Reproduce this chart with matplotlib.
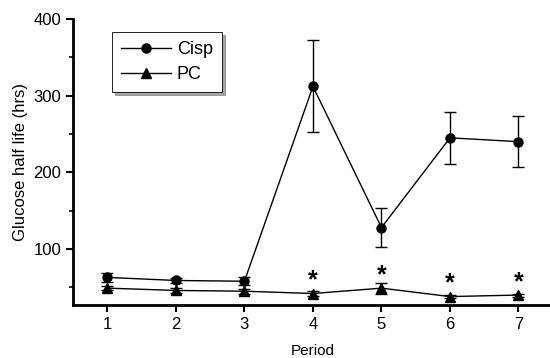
import numpy as np
import matplotlib
matplotlib.use("Agg")
import matplotlib.pyplot as plt
from matplotlib.lines import Line2D

plt.rcParams['font.family'] = ['Liberation Sans', 'DejaVu Sans']

period = [1, 2, 3, 4, 5, 6, 7]
cisp = [63, 59, 58, 312, 128, 245, 240]
cisp_err = [6, 3, 5, 60, 25, 34, 33]
pc = [49, 46, 45, 42, 49, 38, 40]
pc_err = [3, 3, 3, 3, 7, 2, 2]
star_periods = [4, 5, 6, 7]
star_y = [59, 66, 55, 56]

fig = plt.figure(figsize=(5.5, 3.58), dpi=100)
ax = fig.add_axes([0.133, 0.148, 0.872, 0.799])

ax.errorbar(period, cisp, yerr=cisp_err, color='black', marker='o', ms=6.5,
            lw=1, elinewidth=1, capsize=4, capthick=1)
ax.errorbar(period, pc, yerr=pc_err, color='black', marker='^', ms=6.5,
            lw=1, elinewidth=1, capsize=4, capthick=1)
for p, s in zip(star_periods, star_y):
    ax.text(p, s, '*', ha='center', va='center', fontsize=18, fontweight='bold')

ax.set_xlim(0.5, 7.5)
ax.set_ylim(27, 400)
ax.set_xticks(period)
ax.set_yticks([100, 200, 300, 400])
ax.set_yticks([50, 150, 250, 350], minor=True)
ax.spines['top'].set_visible(False)
ax.spines['right'].set_visible(False)
ax.spines['left'].set_linewidth(2)
ax.spines['bottom'].set_linewidth(2)
ax.tick_params(axis='both', which='major', direction='out', length=5, width=1.5, labelsize=12)
ax.tick_params(axis='y', which='minor', direction='out', length=3, width=1.2)
ax.set_xlabel('Period', fontsize=11, labelpad=9)
ax.set_ylabel('Glucose half life (hrs)', fontsize=12, labelpad=4)

handles = [Line2D([], [], color='black', lw=1, marker='o', ms=6.5),
           Line2D([], [], color='black', lw=1, marker='^', ms=6.5)]
leg = ax.legend(handles, ['Cisp', 'PC'], loc='upper left',
                bbox_to_anchor=(0.062, 0.985), fontsize=13,
                fancybox=False, shadow=True, handlelength=2.8, borderpad=0.5,
                labelspacing=0.45, handletextpad=0.3, framealpha=1, edgecolor='black')
leg.get_frame().set_linewidth(0.6)

fig.savefig('out.png', dpi=100)
